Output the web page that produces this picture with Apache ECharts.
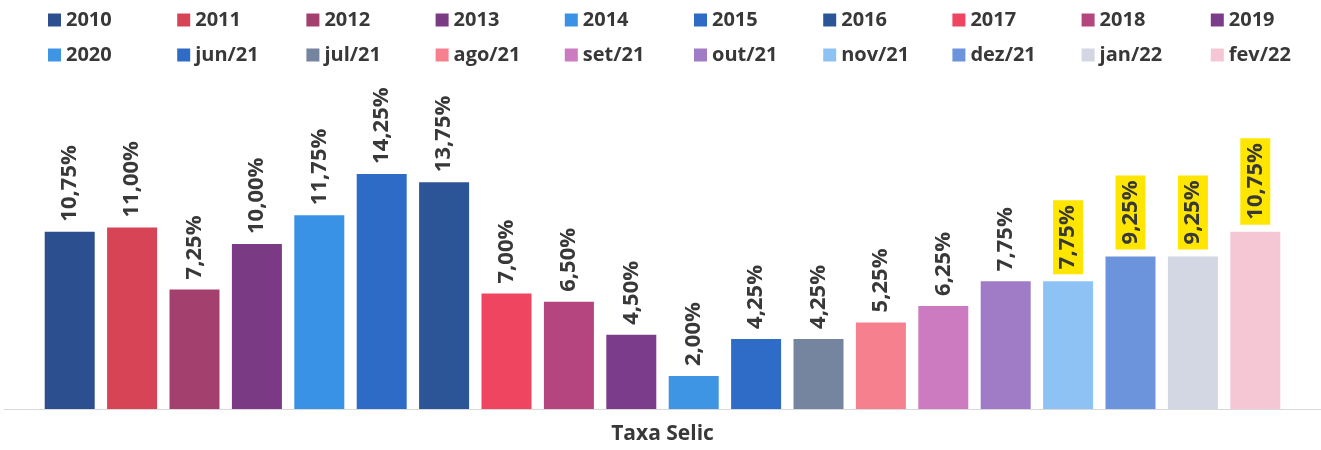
<!DOCTYPE html>
<html>
<head>
<meta charset="utf-8">
<script src="https://cdn.jsdelivr.net/npm/echarts@6/dist/echarts.min.js"></script>
<style>
html,body{margin:0;padding:0;background:#fff;}
#chart{width:1321px;height:450px;}
</style>
</head>
<body>
<div id="chart"></div>
<script>
const categories = ['Taxa Selic'];
const seriesNames = ['2010','2011','2012','2013','2014','2015','2016','2017','2018','2019',
  '2020','jun/21','jul/21','ago/21','set/21','out/21','nov/21','dez/21','jan/22','fev/22'];
const seriesValues = [10.75, 11.00, 7.25, 10.00, 11.75, 14.25, 13.75, 7.00, 6.50, 4.50,
  2.00, 4.25, 4.25, 5.25, 6.25, 7.75, 7.75, 9.25, 9.25, 10.75];
const highlighted = [false,false,false,false,false,false,false,false,false,false,
  false,false,false,false,false,false,true,true,true,true];
const colors = ['#2C4F8F','#D64455','#A3406E','#7A3A84','#3A92E6','#2D6BC6','#2C5598','#EF4560','#B4457F','#7B3C8C',
  '#3E95E3','#2F6CC8','#7585A0','#F7808E','#CC7BC0','#A07CC6','#8EC2F5','#6C94DC','#D3D6E3','#F5C6D4'];

const FONT = '"Open Sans", "Liberation Sans", sans-serif';
const TEXT = '#383838';

const chart = echarts.init(document.getElementById('chart'), null, {renderer: 'canvas'});

const series = seriesNames.map((name, i) => ({
  name: name,
  type: 'bar',
  data: [seriesValues[i]],
  barWidth: 50,
  barGap: '24.8%',
  itemStyle: {color: colors[i]},
  label: {
    show: true,
    position: 'top',
    rotate: 90,
    align: 'left',
    verticalAlign: 'middle',
    distance: highlighted[i] ? 7 : 10,
    fontFamily: FONT,
    fontWeight: 'bold',
    fontSize: 22,
    color: TEXT,
    backgroundColor: highlighted[i] ? '#FFE600' : 'transparent',
    padding: highlighted[i] ? [4, 5, 4, 5] : 0,
    formatter: p => p.value.toFixed(2).replace('.', ',') + '%'
  }
}));

// one legend per entry, laid out on a 10-column grid like the reference
const legends = seriesNames.map((name, i) => ({
  left: 43 + (i % 10) * 129.2,
  top: i < 10 ? 5 : 40,
  orient: 'horizontal',
  icon: 'rect',
  itemWidth: 13,
  itemHeight: 13,
  selectedMode: false,
  data: [name],
  textStyle: {
    fontFamily: FONT,
    fontWeight: 'bold',
    fontSize: 20,
    color: TEXT
  }
}));

const option = {
  animation: false,
  backgroundColor: '#ffffff',
  legend: legends,
  grid: {left: 4, right: 0, top: 79, bottom: 41, containLabel: false},
  xAxis: {
    type: 'category',
    data: categories,
    axisTick: {show: false},
    axisLine: {lineStyle: {color: '#d9d9d9', width: 1}},
    axisLabel: {
      margin: 15,
      fontFamily: FONT,
      fontWeight: 'bold',
      fontSize: 21,
      color: TEXT
    }
  },
  yAxis: {
    type: 'value',
    min: 0,
    max: 20,
    show: false,
    splitLine: {show: false}
  },
  series: series
};

chart.setOption(option);
</script>
</body>
</html>
